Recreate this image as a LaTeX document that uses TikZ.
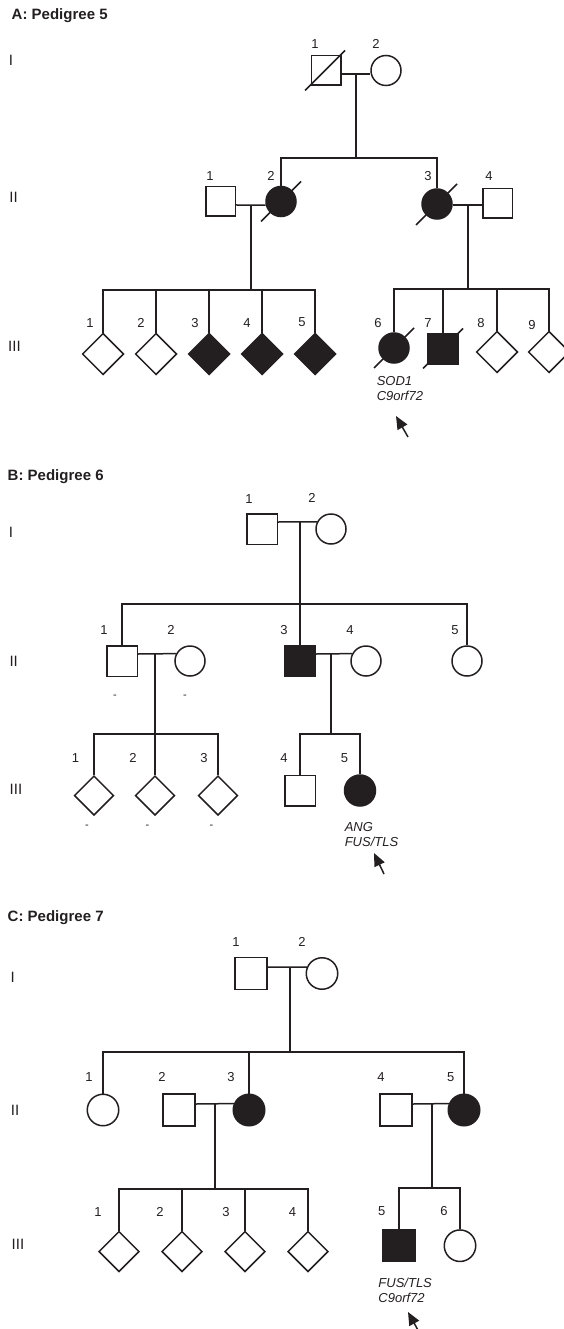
\documentclass[tikz,border=0pt]{standalone}
\usepackage{fontspec}
\setmainfont{Liberation Sans}
\usetikzlibrary{shapes.geometric,arrows.meta,calc}
\definecolor{ink}{HTML}{231F20}
\begin{document}
\begin{tikzpicture}[x=1pt,y=-1pt,line width=1.5pt,color=ink,
  male/.style={draw=ink,rectangle,minimum size=#1,inner sep=0pt},
  female/.style={draw=ink,circle,minimum size=#1,inner sep=0pt},
  unknown/.style={draw=ink,diamond,minimum size=#1,inner sep=0pt},
  aff/.style={fill=ink},
  num/.style={font=\fontsize{13}{13}\selectfont,text=ink,inner sep=0pt},
  gen/.style={font=\fontsize{15}{15}\selectfont,text=ink,inner sep=0pt},
  ttl/.style={font=\fontsize{15}{15}\selectfont\bfseries,text=ink,inner sep=0pt,anchor=west},
  gene/.style={font=\fontsize{13}{15}\selectfont\itshape,text=ink,inner sep=0pt,anchor=north west,align=left},
  neg/.style={font=\fontsize{11}{11}\selectfont,text=ink,inner sep=0pt},
  ptr/.style={-{Triangle[length=13pt,width=11pt]},line width=1.5pt}
]
\useasboundingbox (0,0) rectangle (563,1329);

%%%%%%%%%%%%%%%% A: Pedigree 5
\node[ttl] (tA) at (11,16) {A: Pedigree 5};
\node[gen] (gAa) at (11,60) {I};
\node[gen] (gAb) at (13.5,197) {II};
\node[gen] (gAc) at (14.5,346) {III};

\node[male=29.5] (AI1) at (326,70.5) {};
\node[female=30] (AI2) at (386,70.5) {};
\draw ($(AI1)+(-21,20)$) -- ($(AI1)+(19,-20)$);
\node[num] (nAI1) at (315,44) {1};
\node[num] (nAI2) at (376,44) {2};
\coordinate (mA) at (356,74);
\coordinate (sA) at (356,158);
\draw (AI1.east |- mA) -- (AI2.west |- mA);
\draw (mA) -- (sA);

\node[male=29.5] (AII1) at (220.5,201.5) {};
\node[female=30,aff] (AII2) at (281,201.5) {};
\draw ($(AII2)+(-20,20)$) -- ($(AII2)+(20,-20)$);
\node[female=30,aff] (AII3) at (437,204) {};
\draw ($(AII3)+(-21,21)$) -- ($(AII3)+(20,-20)$);
\node[male=29.5] (AII4) at (497.5,203.5) {};
\node[num] (nAII1) at (210,176) {1};
\node[num] (nAII2) at (271,176) {2};
\node[num] (nAII3) at (428,176) {3};
\node[num] (nAII4) at (489,176) {4};
\draw (AII2.north) |- (sA) -| (AII3.north);
\coordinate (mA2) at (251,205);
\coordinate (mA3) at (468,205);
\draw (AII1.east |- mA2) -- (AII2.193);
\draw (AII3.east |- mA3) -- (AII4.west |- mA3);

\coordinate (sA2) at (251,290);
\coordinate (sA3) at (468,289);
\draw (mA2) -- (sA2);
\draw (mA3) -- (sA3);
\node[unknown=41.5] (AIII1) at (103,354) {};
\node[unknown=41.5] (AIII2) at (156,354) {};
\node[unknown=41.5,aff] (AIII3) at (209,354) {};
\node[unknown=41.5,aff] (AIII4) at (262,354) {};
\node[unknown=41.5,aff] (AIII5) at (315,354) {};
\draw (AIII1.north) |- (sA2) -| (AIII5.north);
\draw (AIII2.north) -- (AIII2.north |- sA2);
\draw (AIII3.north) -- (AIII3.north |- sA2);
\draw (AIII4.north) -- (AIII4.north |- sA2);
\node[num] (nAIII1) at (90,323) {1};
\node[num] (nAIII2) at (141,323) {2};
\node[num] (nAIII3) at (195,323) {3};
\node[num] (nAIII4) at (247,323) {4};
\node[num] (nAIII5) at (302,322) {5};

\node[female=30,aff] (AIII6) at (394,348) {};
\draw ($(AIII6)+(-20,20)$) -- ($(AIII6)+(20,-20)$);
\node[male=30.5,aff] (AIII7) at (443,348.5) {};
\draw ($(AIII7)+(-20,20)$) -- ($(AIII7)+(20,-20)$);
\node[unknown=41.5] (AIII8) at (497,352) {};
\node[unknown=41.5] (AIII9) at (549,352) {};
\draw (AIII6.north) |- (sA3) -| (AIII9.north);
\draw (AIII7.north) -- (AIII7.north |- sA3);
\draw (AIII8.north) -- (AIII8.north |- sA3);
\node[num] (nAIII6) at (378,323) {6};
\node[num] (nAIII7) at (428,323) {7};
\node[num] (nAIII8) at (481,323) {8};
\node[num] (nAIII9) at (532,325) {9};
\node[gene] (geneA) at (376,376) {SOD1\\C9orf72};
\coordinate (arA1) at (408,437);
\coordinate (arA2) at (396,416);
\draw[ptr] (arA1) -- (arA2);

%%%%%%%%%%%%%%%% B: Pedigree 6
\node[ttl] (tB) at (7,476.5) {B: Pedigree 6};
\node[gen] (gBa) at (11,532) {I};
\node[gen] (gBb) at (13.7,661) {II};
\node[gen] (gBc) at (16,789) {III};

\node[male=30.5] (BI1) at (262,529) {};
\node[female=30] (BI2) at (331,529) {};
\node[num] (nBI1) at (249,499) {1};
\node[num] (nBI2) at (312,498) {2};
\coordinate (mB) at (300,522);
\coordinate (sB) at (300,604);
\draw (BI1.east |- mB) -- (BI2.153);

\node[male=30.5] (BII1) at (122,661) {};
\node[female=30] (BII2) at (190,661) {};
\node[male=30.5,aff] (BII3) at (300,660.5) {};
\node[female=30] (BII4) at (366,661) {};
\node[female=30] (BII5) at (467,661) {};
\draw (mB) -- (BII3.north);
\draw (BII1.north) |- (sB) -| (BII5.north);
\node[num] (nBII1) at (104,630) {1};
\node[num] (nBII2) at (171,630) {2};
\node[num] (nBII3) at (284,630) {3};
\node[num] (nBII4) at (350,630) {4};
\node[num] (nBII5) at (455,630) {5};
\node[neg] (xBII1) at (115,697) {-};
\node[neg] (xBII2) at (185,697) {-};
\coordinate (mB2) at (155,654);
\coordinate (mB3) at (331,654);
\draw (BII1.east |- mB2) -- (BII2.152);
\draw (BII3.east |- mB3) -- (BII4.152);

\coordinate (sB2) at (155,734);
\coordinate (sB3) at (331,734);
\node[unknown=39.5] (BIII1) at (94,795.5) {};
\node[unknown=39.5] (BIII2) at (155,795.5) {};
\node[unknown=39.5] (BIII3) at (218,795.5) {};
\draw (mB2) -- (BIII2.north);
\draw (BIII1.north) |- (sB2) -| (BIII3.north);
\node[num] (nBIII1) at (75.5,757.7) {1};
\node[num] (nBIII2) at (133,757.7) {2};
\node[num] (nBIII3) at (204,757.7) {3};
\node[neg] (xBIII1) at (87,826.7) {-};
\node[neg] (xBIII2) at (147.5,826.7) {-};
\node[neg] (xBIII3) at (211.5,826.7) {-};

\node[male=30.5] (BIII4) at (300,790.5) {};
\node[female=31,aff] (BIII5) at (360,790.5) {};
\draw (mB3) -- (sB3);
\draw (BIII4.north) |- (sB3) -| (BIII5.north);
\node[num] (nBIII4) at (284,757.7) {4};
\node[num] (nBIII5) at (344.6,757.7) {5};
\node[gene] (geneB) at (344,821.5) {ANG\\FUS/TLS};
\coordinate (arB1) at (384,874);
\coordinate (arB2) at (374,853);
\draw[ptr] (arB1) -- (arB2);

%%%%%%%%%%%%%%%% C: Pedigree 7
\node[ttl] (tC) at (7,917.7) {C: Pedigree 7};
\node[gen] (gCa) at (12.6,977) {I};
\node[gen] (gCb) at (15,1110.7) {II};
\node[gen] (gCc) at (18,1244) {III};

\node[male=32] (CI1) at (251,973.5) {};
\node[female=31.5] (CI2) at (322,973.5) {};
\node[num] (nCI1) at (236,941.7) {1};
\node[num] (nCI2) at (302,941.7) {2};
\coordinate (mC) at (290,967);
\coordinate (sC) at (290,1052);
\draw (CI1.east |- mC) -- (CI2.157);
\draw (mC) -- (sC);

\node[female=31.5] (CII1) at (103,1110) {};
\node[male=32] (CII2) at (179,1110) {};
\node[female=31.5,aff] (CII3) at (249,1110) {};
\node[male=32] (CII4) at (396,1110) {};
\node[female=31.5,aff] (CII5) at (464,1110) {};
\draw (CII1.north) |- (sC) -| (CII5.north);
\draw (CII3.north) -- (CII3.north |- sC);
\node[num] (nCII1) at (89,1077.3) {1};
\node[num] (nCII2) at (162,1077.3) {2};
\node[num] (nCII3) at (231,1077.3) {3};
\node[num] (nCII4) at (381,1077.3) {4};
\node[num] (nCII5) at (450.7,1077.3) {5};
\coordinate (mC2) at (215,1104);
\coordinate (mC3) at (432,1104);
\draw (CII2.east |- mC2) -- (CII3.157);
\draw (CII4.east |- mC3) -- (CII5.157);

\coordinate (sC2) at (215,1189);
\coordinate (sC3) at (432,1188);
\draw (mC2) -- (sC2);
\draw (mC3) -- (sC3);
\node[unknown=40.5] (CIII1) at (119,1251.5) {};
\node[unknown=40.5] (CIII2) at (182,1251.5) {};
\node[unknown=40.5] (CIII3) at (245,1251.5) {};
\node[unknown=40.5] (CIII4) at (308,1251.5) {};
\draw (CIII1.north) |- (sC2) -| (CIII4.north);
\draw (CIII2.north) -- (CIII2.north |- sC2);
\draw (CIII3.north) -- (CIII3.north |- sC2);
\node[num] (nCIII1) at (98,1212.3) {1};
\node[num] (nCIII2) at (160,1212.3) {2};
\node[num] (nCIII3) at (226,1212.3) {3};
\node[num] (nCIII4) at (292.4,1212.3) {4};

\node[male=32,aff] (CIII5) at (399,1245.7) {};
\node[female=31.5] (CIII6) at (460,1245.7) {};
\draw (CIII5.north) |- (sC3) -| (CIII6.north);
\node[num] (nCIII5) at (381.7,1210.7) {5};
\node[num] (nCIII6) at (444,1210.7) {6};
\node[gene] (geneC) at (377.7,1277) {FUS/TLS\\C9orf72};
\coordinate (arC1) at (419,1332);
\coordinate (arC2) at (408,1312);
\draw[ptr] (arC1) -- (arC2);
\end{tikzpicture}
\end{document}
